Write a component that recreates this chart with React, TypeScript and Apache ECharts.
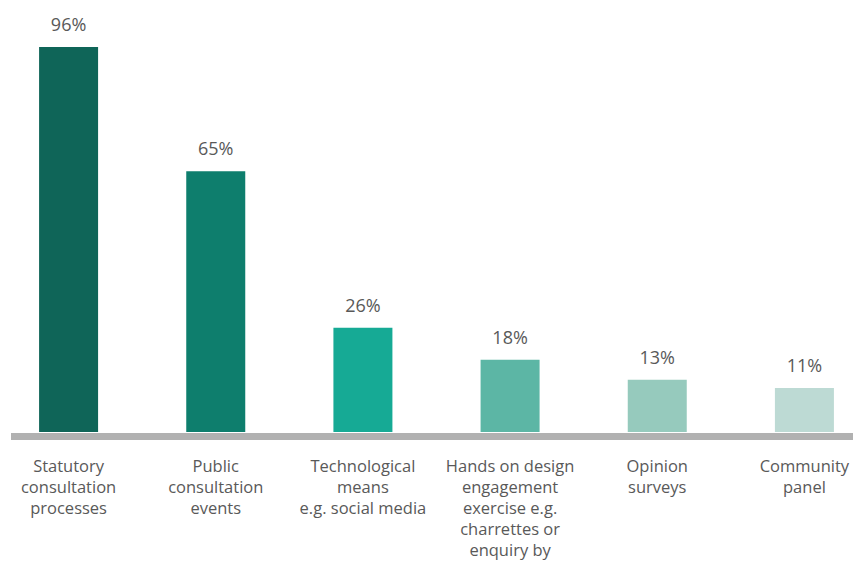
import React, { useEffect, useRef } from "react";
import * as echarts from "echarts";

const categories = [
  "Statutory\nconsultation\nprocesses",
  "Public\nconsultation\nevents",
  "Technological\nmeans\ne.g. social media",
  "Hands on design\nengagement\nexercise e.g.\ncharrettes or\nenquiry by",
  "Opinion\nsurveys",
  "Community\npanel",
];
const values = [96, 65, 26, 18, 13, 11];
const barColors = ["#0f6558", "#0e7e6d", "#16aa95", "#5cb6a5", "#96cabd", "#bddad4"];

export default function App() {
  const ref = useRef<HTMLDivElement>(null);
  useEffect(() => {
    if (!ref.current) return;
    const chart = echarts.init(ref.current, null, { renderer: "svg" });
    chart.setOption({
      animation: false,
      grid: {
        left: -5,
        width: 883,
        top: 31,
        height: 401,
        containLabel: false,
        outerBoundsMode: "none",
      },
      xAxis: {
        type: "category",
        data: categories,
        axisLine: { show: false },
        axisTick: { show: false },
        axisLabel: {
          interval: 0,
          margin: 23,
          color: "#595959",
          fontFamily: "Open Sans",
          fontSize: 16.5,
          lineHeight: 21,
          align: "center",
        },
      },
      yAxis: {
        type: "value",
        min: 0,
        max: 100,
        show: false,
        splitLine: { show: false },
      },
      graphic: [
        {
          type: "rect",
          shape: { x: 11, y: 433, width: 842, height: 7 },
          style: { fill: "#b1b1b1" },
          silent: true,
        },
      ],
      series: [
        {
          type: "bar",
          barWidth: 59,
          data: values.map((v, i) => ({ value: v, itemStyle: { color: barColors[i] } })),
          label: {
            show: true,
            position: "top",
            distance: 14,
            formatter: "{c}%",
            color: "#595959",
            fontFamily: "Open Sans",
            fontSize: 18,
          },
        },
      ],
    });
    return () => chart.dispose();
  }, []);
  return <div ref={ref} style={{ width: 853, height: 562, position: "absolute", left: 0, top: 0 }} />;
}
